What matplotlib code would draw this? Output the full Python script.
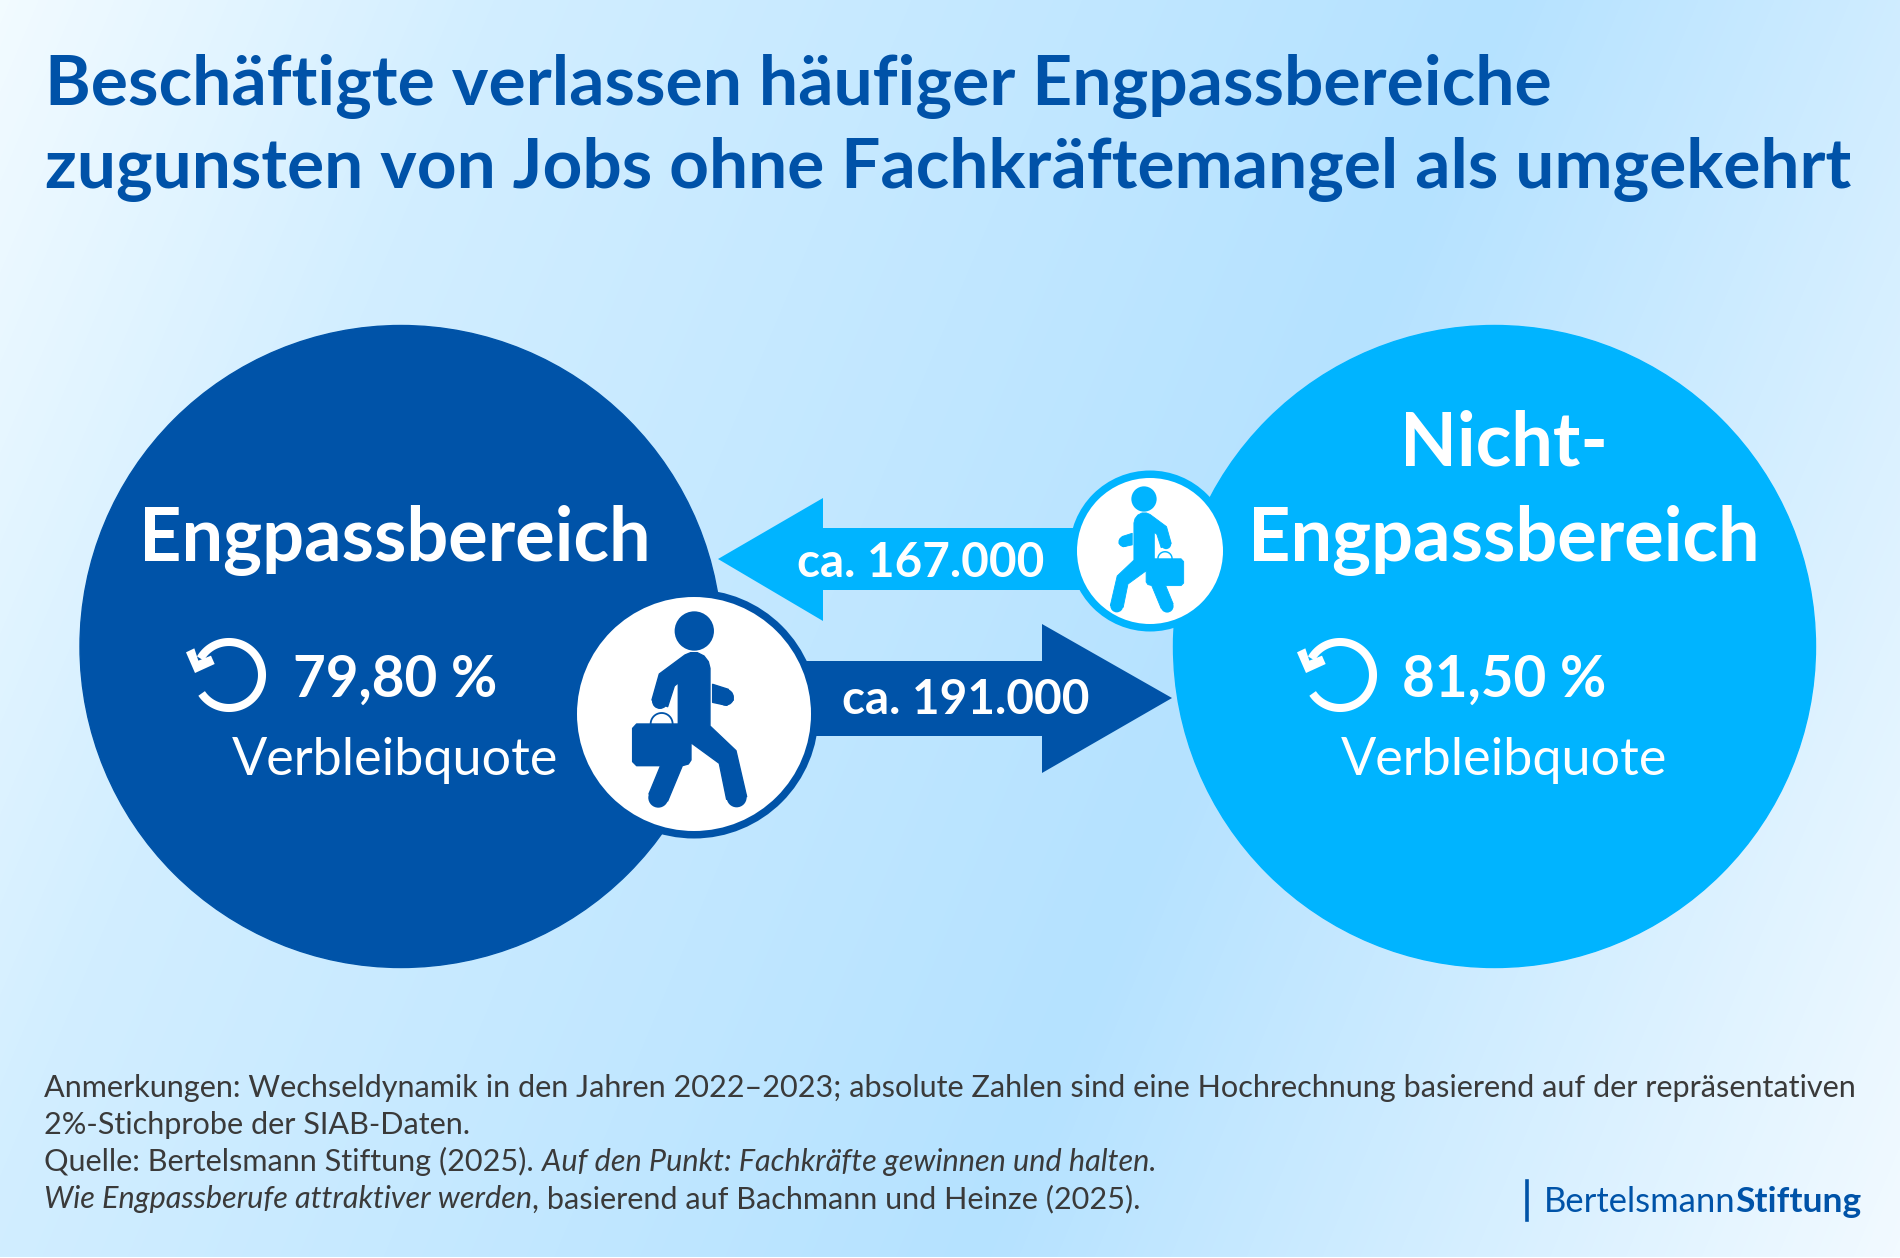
import numpy as np
import matplotlib
matplotlib.use("Agg")
import matplotlib.pyplot as plt
from matplotlib.colors import LinearSegmentedColormap
from matplotlib.patches import Circle, Polygon

# Daten
bereiche = ["Engpassbereich", "Nicht-\nEngpassbereich"]
verbleibquote = [79.80, 81.50]
wechsel = [191000, 167000]
verbleib_label = "Verbleibquote"
titel = ["Beschäftigte verlassen häufiger Engpassbereiche",
         "zugunsten von Jobs ohne Fachkräftemangel als umgekehrt"]
fussnote = [
    [("Anmerkungen: Wechseldynamik in den Jahren 2022–2023; absolute Zahlen sind eine Hochrechnung basierend auf der repräsentativen", "normal")],
    [("2%-Stichprobe der SIAB-Daten.", "normal")],
    [("Quelle: Bertelsmann Stiftung (2025). ", "normal"), ("Auf den Punkt: Fachkräfte gewinnen und halten.", "italic")],
    [("Wie Engpassberufe attraktiver werden", "italic"), (", basierend auf Bachmann und Heinze (2025).", "normal")],
]

DUNKEL = "#0053a8"
HELL = "#00b4ff"
TITEL = "#0052a8"
GRAU = "#3a3a3a"

plt.rcParams["font.family"] = ["Lato", "DejaVu Sans"]

fig = plt.figure(figsize=(19, 12.58), dpi=100)
ax = fig.add_axes([0, 0, 1, 1])
ax.set_xlim(0, 1900)
ax.set_ylim(1258, 0)
ax.axis("off")

# Hintergrund-Verlauf
yy, xx = np.mgrid[0:1258, 0:1900]
t = (xx + 0.42 * yy) / (1900 + 0.42 * 1258)
cmap = LinearSegmentedColormap.from_list("bg", [(0, "#f2fbff"), (0.2, "#d2eeff"), (0.62, "#b5e2ff"), (1, "#f2faff")])
ax.imshow(t, cmap=cmap, vmin=0, vmax=1, extent=(0, 1900, 1258, 0), aspect="auto", zorder=0)
ax.fill_between([0, 1900], 1257, 1258, color="white", lw=0, zorder=1)


def person(cx, cy, f, farbe, spiegeln=False):
    sx = -f if spiegeln else f

    def p(pts):
        return [(cx + sx * (x - 223) / 3, cy + f * (y - 93) / 3) for x, y in pts]

    def kreis(x, y, r):
        (a, b), = p([(x, y)])
        ax.add_patch(Circle((a, b), f * r / 3, fc=farbe, ec="none", zorder=6))

    koerper = [(195, 165), (212, 158), (232, 158), (252, 168), (265, 185), (270, 205), (270, 378), (348, 452),
               (380, 590), (320, 598), (298, 490), (213, 428), (213, 480), (205, 492), (187, 497), (143, 603),
               (87, 582), (122, 497), (50, 497), (38, 485), (38, 385), (50, 372), (175, 372), (175, 248),
               (163, 258), (143, 320), (96, 300), (118, 222)]
    arm = [(278, 253), (325, 268), (340, 300), (320, 316), (278, 307)]
    kreis(223, 93, 59)
    ax.add_patch(Polygon(p(koerper), closed=True, fc=farbe, ec=farbe, lw=f, joinstyle="round", zorder=6))
    ax.add_patch(Polygon(p(arm), closed=True, fc=farbe, ec=farbe, lw=f, joinstyle="round", zorder=6))
    kreis(350, 592, 30)
    kreis(115, 593, 30)
    kreis(120, 303, 24)
    kreis(317, 292, 25)
    w = np.radians(np.linspace(0, 180, 30))
    g = np.array(p(list(zip(125 + 33 * np.cos(w), 372 - 33 * np.sin(w)))))
    ax.plot(g[:, 0], g[:, 1], color=farbe, lw=1.3 * max(f, 0.8), zorder=6)


def drehpfeil(x, y):
    # Bogen läuft von oben links über rechts nach unten links
    w = np.radians(np.linspace(150, -146, 120))
    ax.plot(x + 33 * np.cos(w), y - 33 * np.sin(w), color="white", lw=5.8, solid_capstyle="butt", zorder=3)
    kopf = [(80, 125), (105, 113), (117, 150), (155, 135), (166, 160), (107, 187)]
    ax.add_patch(Polygon([(x + (a - 209) / 3, y + (b - 193) / 3) for a, b in kopf], closed=True, fc="white", ec="none", zorder=3))


def zahl(v):
    return "ca. " + f"{v:,}".replace(",", ".")


def quote(v):
    return f"{v:.2f}".replace(".", ",") + " %"


# Große Kreise
ax.add_patch(Circle((401, 646.5), 321, color=DUNKEL, zorder=1))
ax.add_patch(Circle((1494.5, 646.5), 321, color=HELL, zorder=1))

# Pfeile
ax.add_patch(Polygon([(718, 559), (823, 498), (823, 528), (1085, 528), (1085, 590), (823, 590), (823, 621)], closed=True, fc=HELL, ec="none", zorder=2))
ax.add_patch(Polygon([(800, 661), (1042, 661), (1042, 624), (1172, 698), (1042, 773), (1042, 736), (800, 736)], closed=True, fc=DUNKEL, ec="none", zorder=2))

# Personen-Kreise
ax.add_patch(Circle((694, 714), 124.5, fc=DUNKEL, ec="none", zorder=4))
ax.add_patch(Circle((694, 714), 117, fc="white", ec="none", zorder=5))
ax.add_patch(Circle((1150, 551), 80.5, fc=HELL, ec="none", zorder=4))
ax.add_patch(Circle((1150, 551), 73, fc="white", ec="none", zorder=5))
person(694.3, 631, 1.0, DUNKEL)
person(1144, 499, 0.643, HELL, spiegeln=True)

# Titel
ax.text(45, 105, titel[0], fontsize=50, fontweight="bold", color=TITEL, va="baseline", zorder=7)
ax.text(45, 188, titel[1], fontsize=49.92, fontweight="bold", color=TITEL, va="baseline", zorder=7)

# Kreistexte
ax.text(395, 561, bereiche[0], fontsize=53.2, fontweight="bold", color="white", ha="center", va="baseline", zorder=7)
ax.text(1504, 465, bereiche[1].split("\n")[0], fontsize=53.2, fontweight="bold", color="white", ha="center", va="baseline", zorder=7)
ax.text(1504, 561, bereiche[1].split("\n")[1], fontsize=53.2, fontweight="bold", color="white", ha="center", va="baseline", zorder=7)

ax.text(293, 697, quote(verbleibquote[0]), fontsize=40.8, fontweight="bold", color="white", va="baseline", zorder=7)
ax.text(1402, 697, quote(verbleibquote[1]), fontsize=40.8, fontweight="bold", color="white", va="baseline", zorder=7)
ax.text(395, 775, verbleib_label, fontsize=37.5, color="white", ha="center", va="baseline", zorder=7)
ax.text(1504, 775, verbleib_label, fontsize=37.5, color="white", ha="center", va="baseline", zorder=7)
drehpfeil(229, 675)
drehpfeil(1340, 675)

# Pfeiltexte
ax.text(921, 577, zahl(wechsel[1]), fontsize=34.3, fontweight="bold", color="white", ha="center", va="baseline", zorder=7)
ax.text(966, 714, zahl(wechsel[0]), fontsize=34.3, fontweight="bold", color="white", ha="center", va="baseline", zorder=7)

# Fussnote, Stücke mit gemessener Breite aneinander
fig.canvas.draw()
r = fig.canvas.get_renderer()
y = 1097
for zeile in fussnote:
    x = 44
    for s, stil in zeile:
        tx = ax.text(x, y, s, fontsize=22.07, style=stil, color=GRAU, va="baseline", zorder=7)
        x += tx.get_window_extent(r).width
    y += 37

# Logo
ax.plot([1527, 1527], [1181, 1220], color=DUNKEL, lw=2.6, zorder=7)
t1 = ax.text(1544, 1212, "Bertelsmann", fontsize=24.9, color=DUNKEL, va="baseline", zorder=7)
ax.text(1544 + t1.get_window_extent(r).width, 1212, "Stiftung", fontsize=25.5, fontweight="bold", color=DUNKEL, va="baseline", zorder=7)

fig.savefig("out.png", dpi=100)
